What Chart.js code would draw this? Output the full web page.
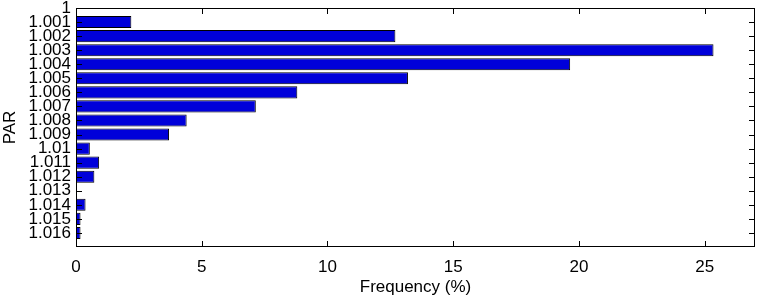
<!DOCTYPE html>
<html>
<head>
<meta charset="utf-8">
<script src="https://cdn.jsdelivr.net/npm/chart.js@4"></script>
<style>
  html, body { margin: 0; padding: 0; background: #fff; }
  #wrap { width: 761px; height: 298px; }
</style>
</head>
<body>
<div id="wrap"><canvas id="parChart" width="761" height="298"></canvas></div>
<script>
// PAR 分布（横向柱状图）
const PAR_LABELS = ['1', '1.001', '1.002', '1.003', '1.004', '1.005', '1.006', '1.007', '1.008',
  '1.009', '1.01', '1.011', '1.012', '1.013', '1.014', '1.015', '1.016'];
const FREQ_VALUES = [0, 2.2, 12.7, 25.35, 19.65, 13.2, 8.8, 7.15, 4.4,
  3.7, 0.55, 0.92, 0.73, 0, 0.38, 0.18, 0.18];
const X_TICKS = [0, 5, 10, 15, 20, 25];

const FONT = { family: '"Liberation Sans", Arial, Helvetica, sans-serif', size: 17 };

// 刻度线画在坐标框内侧，再补上外框
const innerTicks = {
  id: 'innerTicks',
  afterDatasetsDraw(chart) {
    const { ctx, chartArea: a, scales } = chart;
    const len = 6;
    ctx.save();
    ctx.strokeStyle = '#000';
    ctx.lineWidth = 1;
    ctx.beginPath();
    X_TICKS.forEach(v => {
      const px = Math.round(scales.x.getPixelForValue(v)) + 0.5;
      ctx.moveTo(px, a.bottom); ctx.lineTo(px, a.bottom - len);
      ctx.moveTo(px, a.top); ctx.lineTo(px, a.top + len);
    });
    PAR_LABELS.forEach((_, i) => {
      const py = Math.round(scales.y.getPixelForValue(i)) + 0.5;
      ctx.moveTo(a.left, py); ctx.lineTo(a.left + len, py);
      ctx.moveTo(a.right, py); ctx.lineTo(a.right - len, py);
    });
    ctx.stroke();
    ctx.strokeRect(Math.round(a.left) + 0.5, Math.round(a.top) + 0.5,
      Math.round(a.right - a.left) - 1, Math.round(a.bottom - a.top) - 1);
    ctx.restore();
  }
};

new Chart(document.getElementById('parChart'), {
  type: 'bar',
  data: {
    datasets: [{
      data: FREQ_VALUES.map((v, i) => ({ x: v, y: i })),
      backgroundColor: 'rgb(0,0,218)',
      borderColor: '#000',
      borderWidth: ctx => (ctx.raw && ctx.raw.x > 0 ? 1 : 0),
      borderSkipped: false,
      barPercentage: 0.86,
      categoryPercentage: 1
    }]
  },
  options: {
    indexAxis: 'y',
    responsive: false,
    animation: false,
    layout: { padding: { top: 8, right: 6, left: 0, bottom: 0 } },
    plugins: { legend: { display: false }, tooltip: { enabled: false } },
    scales: {
      x: {
        type: 'linear',
        min: 0,
        max: 27,
        afterBuildTicks: scale => { scale.ticks = X_TICKS.map(v => ({ value: v })); },
        afterFit: scale => { scale.height = 51; },
        grid: { display: false, drawTicks: false },
        border: { display: false },
        ticks: { color: '#000', font: FONT, padding: 10 },
        title: { display: true, text: 'Frequency (%)', color: '#000', font: FONT, padding: 0 }
      },
      y: {
        type: 'linear',
        reverse: true,
        offset: false,
        min: 0,
        max: 17,
        afterBuildTicks: scale => { scale.ticks = PAR_LABELS.map((_, i) => ({ value: i })); },
        afterFit: scale => {
          scale.width = 76;
          scale.paddingTop = 0;
          scale.paddingBottom = 0;
        },
        grid: { display: false, drawTicks: false },
        border: { display: false },
        ticks: {
          color: '#000',
          font: FONT,
          padding: 5,
          autoSkip: false,
          callback: v => PAR_LABELS[v]
        },
        title: { display: true, text: 'PAR', color: '#000', font: FONT, padding: 0 }
      }
    }
  },
  plugins: [innerTicks]
});
</script>
</body>
</html>
